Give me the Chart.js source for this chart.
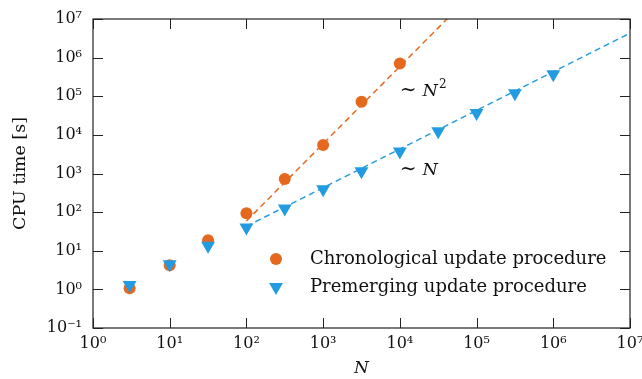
<!DOCTYPE html>
<html>
<head>
<meta charset="utf-8">
<script src="https://cdn.jsdelivr.net/npm/chart.js@4/dist/chart.umd.min.js"></script>
<style>
  html, body { margin: 0; padding: 0; background: #fff; }
  #wrap { width: 642px; height: 379px; position: relative; }
</style>
</head>
<body>
<div id="wrap"><canvas id="c" width="642" height="379"></canvas></div>
<script>
// ---- data ----
const nChrono = [3, 10, 31.6, 100, 316, 1000, 3162, 10000];
const tChrono = [1.07, 4.2, 18.8, 94, 720, 5500, 72000, 700000];
const nPremerge = [3, 10, 31.6, 100, 316, 1000, 3162, 10000, 31623, 100000, 316228, 1000000];
const tPremerge = [1.3, 4.5, 13.5, 40, 125, 390, 1150, 3700, 12500, 37000, 120000, 370000];
// fitted guide lines (~N^2 and ~N), endpoints
const fitN2x = [100, 100000];
const fitN2y = [59, 59000000];
const fitN1x = [100, 10000000];
const fitN1y = [43, 4300000];
const xTicks = [1, 10, 100, 1000, 10000, 100000, 1000000, 10000000];
const yTicks = [0.1, 1, 10, 100, 1000, 10000, 100000, 1000000, 10000000];
const legendLabels = ['Chronological update procedure', 'Premerging update procedure'];

const ORANGE = '#E4691F';
const BLUE = '#229BE0';
const FONT = '"DejaVu Serif", "Liberation Serif", serif';

const sup = {'-':'\u207B','0':'\u2070','1':'\u00B9','2':'\u00B2','3':'\u00B3','4':'\u2074','5':'\u2075','6':'\u2076','7':'\u2077','8':'\u2078','9':'\u2079'};
function powLabel(v) {
  const e = Math.round(Math.log10(v));
  return '10' + String(e).split('').map(c => sup[c]).join('');
}
const pts = (xs, ys) => xs.map((x, i) => ({x: x, y: ys[i]}));

const framePlugin = {
  id: 'frame',
  afterDatasetsDraw(chart) {
    const {ctx, chartArea: a, scales: {x, y}} = chart;
    ctx.save();
    ctx.strokeStyle = '#222';
    ctx.lineWidth = 1.2;
    ctx.strokeRect(a.left, a.top, a.right - a.left, a.bottom - a.top);
    ctx.lineWidth = 1;
    ctx.beginPath();
    const L = 10;
    xTicks.forEach(v => {
      const px = Math.round(x.getPixelForValue(v)) + 0.5;
      ctx.moveTo(px, a.bottom); ctx.lineTo(px, a.bottom - L);
      ctx.moveTo(px, a.top); ctx.lineTo(px, a.top + L);
    });
    yTicks.forEach(v => {
      const py = Math.round(y.getPixelForValue(v)) + 0.5;
      ctx.moveTo(a.left, py); ctx.lineTo(a.left + L, py);
      ctx.moveTo(a.right, py); ctx.lineTo(a.right - L, py);
    });
    ctx.stroke();

    // legend
    const lx = 276, ly1 = 259, ly2 = 287;
    ctx.fillStyle = ORANGE;
    ctx.beginPath(); ctx.arc(lx, ly1, 6, 0, Math.PI * 2); ctx.fill();
    ctx.fillStyle = BLUE;
    const R = 8;
    ctx.beginPath();
    ctx.moveTo(lx, ly2 + R);
    ctx.lineTo(lx - R * Math.sqrt(3) / 2, ly2 - R / 2);
    ctx.lineTo(lx + R * Math.sqrt(3) / 2, ly2 - R / 2);
    ctx.closePath(); ctx.fill();
    ctx.fillStyle = '#111';
    ctx.font = '18px ' + FONT;
    ctx.textBaseline = 'middle';
    ctx.textAlign = 'left';
    ctx.fillText(legendLabels[0], 310, ly1);
    ctx.fillText(legendLabels[1], 310, ly2);

    // annotations
    function ann(xv, yv, supText) {
      let px = x.getPixelForValue(xv), py = y.getPixelForValue(yv);
      ctx.textBaseline = 'alphabetic';
      ctx.font = '20px ' + FONT;
      ctx.fillText('\u223C', px, py);
      px += ctx.measureText('\u223C').width + 6;
      ctx.font = 'italic 17.5px ' + FONT;
      ctx.fillText('N', px, py);
      px += ctx.measureText('N').width + 1;
      if (supText) {
        ctx.font = '12px ' + FONT;
        ctx.fillText(supText, px, py - 8);
      }
    }
    ann(10000, 100000, '2');
    ann(10000, 900, '');
    ctx.restore();
  }
};

new Chart(document.getElementById('c'), {
  type: 'scatter',
  data: {
    datasets: [
      { label: 'fitN2', type: 'line', data: pts(fitN2x, fitN2y), borderColor: ORANGE, borderWidth: 1.5,
        borderDash: [6, 4], pointRadius: 0, fill: false, tension: 0, order: 3 },
      { label: 'fitN1', type: 'line', data: pts(fitN1x, fitN1y), borderColor: BLUE, borderWidth: 1.5,
        borderDash: [6, 4], pointRadius: 0, fill: false, tension: 0, order: 3 },
      { label: legendLabels[0], data: pts(nChrono, tChrono), backgroundColor: ORANGE, borderColor: ORANGE,
        borderWidth: 0, pointRadius: 6, pointStyle: 'circle', order: 2 },
      { label: legendLabels[1], data: pts(nPremerge, tPremerge), backgroundColor: BLUE, borderColor: BLUE,
        borderWidth: 0, pointRadius: 8, pointStyle: 'triangle', rotation: 180, order: 1 }
    ]
  },
  options: {
    responsive: false,
    animation: false,
    devicePixelRatio: 1,
    layout: { padding: { left: 0, right: 12, top: 19, bottom: 0 } },
    plugins: { legend: { display: false }, tooltip: { enabled: false } },
    scales: {
      x: {
        type: 'logarithmic', min: 1, max: 10000000,
        grid: { display: false, drawTicks: false },
        border: { display: false },
        afterBuildTicks: s => { s.ticks = xTicks.map(v => ({value: v})); },
        afterFit: s => { s.height = 51; s.paddingLeft = 0; s.paddingRight = 0; },
        ticks: { color: '#111', font: { family: FONT, size: 16 }, padding: 6, maxRotation: 0, autoSkip: false,
                 callback: v => powLabel(v) },
        title: { display: true, text: 'N', color: '#111', font: { family: FONT, size: 17, style: 'italic' },
                 padding: { top: 0, bottom: 0 } }
      },
      y: {
        type: 'logarithmic', min: 0.1, max: 10000000,
        grid: { display: false, drawTicks: false },
        border: { display: false },
        afterBuildTicks: s => { s.ticks = yTicks.map(v => ({value: v})); },
        afterFit: s => { s.width = 93; s.paddingTop = 0; s.paddingBottom = 0; },
        ticks: { color: '#111', font: { family: FONT, size: 16 }, padding: 11, autoSkip: false,
                 callback: v => powLabel(v) },
        title: { display: true, text: 'CPU time [s]', color: '#111', font: { family: FONT, size: 17.5 },
                 padding: { top: 10, bottom: 0 } }
      }
    }
  },
  plugins: [framePlugin]
});
</script>
</body>
</html>
